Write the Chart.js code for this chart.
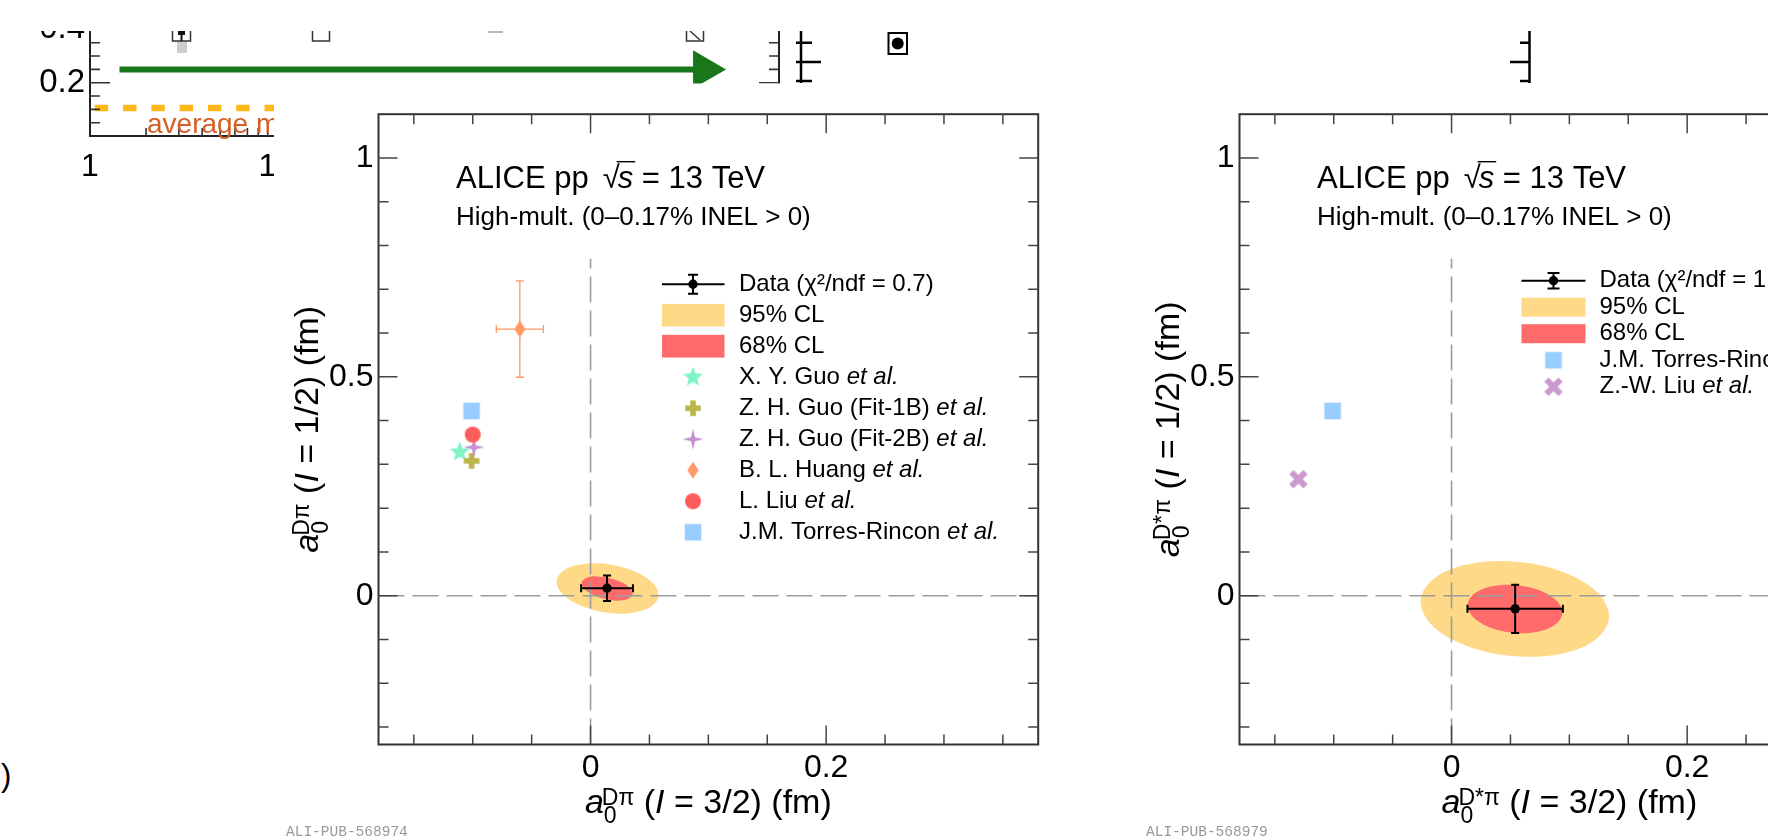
<!DOCTYPE html>
<html>
<head>
<meta charset="utf-8">
<script src="https://cdn.jsdelivr.net/npm/chart.js@4.4.1/dist/chart.umd.min.js"></script>
<style>
html, body { margin:0; padding:0; width:1768px; height:836px; overflow:hidden; background:#fff; }
canvas { position:absolute; display:block; }
#frag { left:0; top:0; clip-path: polygon(0px 31px, 1768px 31px, 1768px 83.5px, 274px 83.5px, 274px 200px, 0px 200px); }
#panelL { left:200px; top:90px; }
#panelR { left:1061px; top:90px; }
.pub { position:absolute; font-family:"Liberation Mono","DejaVu Sans Mono",monospace; font-size:14.5px; line-height:14px; color:#999; white-space:nowrap; }
.paren { position:absolute; left:1px; top:760px; font-family:"Liberation Sans",Arial,sans-serif; font-size:31px; line-height:31px; color:#000; }
</style>
</head>
<body>
<canvas id="frag" width="1768" height="200"></canvas>
<canvas id="panelL" width="880" height="746"></canvas>
<canvas id="panelR" width="880" height="746"></canvas>
<div class="pub" style="left:286px; top:825px;">ALI-PUB-568974</div>
<div class="pub" style="left:1146px; top:825px;">ALI-PUB-568979</div>
<div class="paren">)</div>
<script>
// ================= DATA =================
// --- D pi panel ---
const dpiDataX = [0.014];
const dpiDataY = [0.017];
const dpiDataErrX = [0.022];
const dpiDataErrY = [0.029];
const dpiChi2 = ['0.7'];
const dpiCL95X = [0.0576, 0.0501, 0.0331, 0.0110, -0.0100, -0.0246, -0.0287, -0.0212, -0.0042, 0.0178, 0.0389, 0.0535];
const dpiCL95Y = [-0.0025, -0.0271, -0.0400, -0.0380, -0.0210, 0.0059, 0.0355, 0.0602, 0.0729, 0.0708, 0.0538, 0.0271];
const dpiCL68X = [0.0355, 0.0315, 0.0229, 0.0118, 0.0013, -0.0057, -0.0075, -0.0035, 0.0052, 0.0162, 0.0268, 0.0337];
const dpiCL68Y = [0.0023, -0.0077, -0.0113, -0.0072, 0.0032, 0.0172, 0.0308, 0.0405, 0.0441, 0.0400, 0.0299, 0.0158];
const dpiModels = ['X. Y. Guo', 'Z. H. Guo (Fit-1B)', 'Z. H. Guo (Fit-2B)', 'B. L. Huang', 'L. Liu', 'J.M. Torres-Rincon'];
const dpiModelX = [-0.111, -0.101, -0.099, -0.060, -0.100, -0.101];
const dpiModelY = [0.328, 0.308, 0.339, 0.609, 0.368, 0.422];
const dpiModelErrX = [0, 0, 0, 0.020, 0, 0];
const dpiModelErrY = [0, 0, 0, 0.110, 0, 0];

// --- D* pi panel ---
const dstarpiDataX = [0.054];
const dstarpiDataY = [-0.030];
const dstarpiDataErrX = [0.0405];
const dstarpiDataErrY = [0.055];
const dstarpiChi2 = ['1.1'];
const dstarpiCL95X = [0.1337, 0.1210, 0.0902, 0.0496, 0.0102, -0.0176, -0.0262, -0.0135, 0.0173, 0.0579, 0.0973, 0.1250];
const dstarpiCL95Y = [-0.0523, -0.1029, -0.1342, -0.1373, -0.1120, -0.0649, -0.0084, 0.0423, 0.0735, 0.0767, 0.0514, 0.0043];
const dstarpiCL68X = [0.0940, 0.0875, 0.0721, 0.0518, 0.0320, 0.0181, 0.0137, 0.0201, 0.0356, 0.0559, 0.0756, 0.0896];
const dstarpiCL68Y = [-0.0414, -0.0672, -0.0830, -0.0848, -0.0722, -0.0482, -0.0197, 0.0061, 0.0219, 0.0238, 0.0111, -0.0129];
const dstarpiModels = ['J.M. Torres-Rincon', 'Z.-W. Liu'];
const dstarpiModelX = [-0.101, -0.130];
const dstarpiModelY = [0.422, 0.266];
const dstarpiModelErrX = [0, 0];
const dstarpiModelErrY = [0, 0];

// --- shared axes ---
const xRange = [-0.18, 0.38];
const yRange = [-0.34, 1.1];
const xTickValues = [0, 0.2];
const xTickLabels = ['0', '0.2'];
const yTickValues = [0, 0.5, 1];
const yTickLabels = ['0', '0.5', '1'];
const zeroLineVX = [0, 0];
const zeroLineVY = [-0.34, 0.77];
const zeroLineHX = [-0.18, 0.38];
const zeroLineHY = [0, 0];

// --- background fragment (cropped neighbouring figure) ---
const fragTickX = [1, 10, 100, 1000];
const fragTickXLabels = ['1', '10', '100', '1000'];
const fragTickY = [0.2, 0.4];
const fragTickYLabels = ['0.2', '0.4'];
const fragGreenX = [1.44, 1900];
const fragGreenY = [0.25, 0.25];
const fragHeadX = [1980];
const fragHeadY = [0.25];
const fragAvgX = [1.06, 100];
const fragAvgY = [0.105, 0.105];

// ================= STYLE =================
const FONT = '"Liberation Sans", Arial, Helvetica, sans-serif';
const fnt = (size, italic) => (italic ? 'italic ' : '') + size + 'px ' + FONT;
Chart.defaults.font.family = FONT;
const CL95_COLOR = '#fed987';
const CL68_COLOR = '#ff6b6b';
const ZERO_COLOR = '#9c9c9c';
const dpiMarkerKinds = ['star5', 'plus', 'star4', 'diamond', 'circle', 'square'];
const dpiMarkerColors = ['#7ff5c6', '#bbb54a', '#c690d3', '#ff9966', '#ff5c5c', '#99ccff'];
const dstarpiMarkerKinds = ['square', 'xcross'];
const dstarpiMarkerColors = ['#99ccff', '#cc99cc'];

function makeMarker(kind, color) {
  const s = 28, c = document.createElement('canvas');
  c.width = s; c.height = s;
  const g = c.getContext('2d');
  g.translate(s / 2, s / 2);
  g.fillStyle = color;
  g.beginPath();
  if (kind === 'square') g.rect(-8.3, -8.3, 16.6, 16.6);
  else if (kind === 'circle') g.arc(0, 0, 8, 0, Math.PI * 2);
  else if (kind === 'diamond') { g.moveTo(0, -8.5); g.lineTo(5.6, 0); g.lineTo(0, 8.5); g.lineTo(-5.6, 0); g.closePath(); }
  else if (kind === 'star5' || kind === 'star4') {
    const n = kind === 'star5' ? 5 : 4, ro = 10.5, ri = kind === 'star5' ? 4.5 : 2.8;
    for (let i = 0; i < 2 * n; i++) {
      const a = -Math.PI / 2 + i * Math.PI / n, r = i % 2 ? ri : ro;
      const px = r * Math.cos(a), py = r * Math.sin(a);
      if (i) g.lineTo(px, py); else g.moveTo(px, py);
    }
    g.closePath();
  } else if (kind === 'plus' || kind === 'xcross') {
    if (kind === 'xcross') g.rotate(Math.PI / 4);
    const L = kind === 'plus' ? 7.8 : 10, T = kind === 'plus' ? 2.8 : 3.0;
    g.rect(-L, -T, 2 * L, 2 * T); g.rect(-T, -L, 2 * T, 2 * L);
  }
  g.fill();
  return c;
}

// rich text: segments {t, size, it} or {sup, sub, size, supDx, supDy, subDx, subDy}
function drawRich(ctx, segs, x, y, dry) {
  let cx = x;
  for (const s of segs) {
    if (s.sup !== undefined) {
      ctx.font = fnt(s.size);
      const w1 = ctx.measureText(s.sup).width + s.supDx;
      const w2 = ctx.measureText(s.sub).width + s.subDx;
      if (!dry) { ctx.fillText(s.sup, cx + s.supDx, y + s.supDy); ctx.fillText(s.sub, cx + s.subDx, y + s.subDy); }
      cx += Math.max(w1, w2);
    } else {
      ctx.font = fnt(s.size, s.it);
      if (!dry) ctx.fillText(s.t, cx, y);
      cx += ctx.measureText(s.t).width;
    }
  }
  return cx - x;
}

function closedLoop(xs, ys) {
  const pts = xs.map((x, i) => ({ x, y: ys[i] }));
  const n = pts.length;
  return [pts[n - 1], ...pts, pts[0], pts[1]];
}

function axisTitle(sup, iso) {
  return [
    { t: 'a', size: 34, it: true },
    { sup: sup, sub: '0', size: 23, supDx: -2, supDy: -8.5, subDx: 0, subDy: 10 },
    { t: ' (', size: 34 },
    { t: 'I', size: 34, it: true },
    { t: ' = ' + iso + ') (fm)', size: 34 }
  ];
}

function buildPanel(canvasId, P) {
  const markers = P.kinds.map((k, i) => makeMarker(k, P.colors[i]));
  const datasets = [
    { data: closedLoop(P.cl95X, P.cl95Y), showLine: true, fill: 'shape', backgroundColor: CL95_COLOR, borderWidth: 0, pointRadius: 0, tension: 0.35, order: 20 },
    { data: closedLoop(P.cl68X, P.cl68Y), showLine: true, fill: 'shape', backgroundColor: CL68_COLOR, borderWidth: 0, pointRadius: 0, tension: 0.35, order: 19 },
    { data: zeroLineHX.map((x, i) => ({ x, y: zeroLineHY[i] })), showLine: true, borderColor: ZERO_COLOR, borderWidth: 1.6, borderDash: [26, 8], pointRadius: 0, order: 18 },
    { data: zeroLineVX.map((x, i) => ({ x, y: zeroLineVY[i] })), showLine: true, borderColor: ZERO_COLOR, borderWidth: 1.6, borderDash: [26, 8], pointRadius: 0, order: 17 }
  ];
  P.modelX.forEach((x, i) => {
    datasets.push({ data: [{ x, y: P.modelY[i] }], pointStyle: markers[i], pointRadius: 10, order: 10 - i });
  });
  datasets.push({ data: [{ x: P.dataX[0], y: P.dataY[0] }], pointStyle: 'circle', pointRadius: 4.7, backgroundColor: '#000', borderWidth: 0, order: 0 });

  const L = P.legend;
  const decor = {
    id: 'decor',
    afterDatasetsDraw(chart) {
      const ctx = chart.ctx, sx = chart.scales.x, sy = chart.scales.y;
      const bars = [];
      P.dataX.forEach((x, i) => bars.push({ x, y: P.dataY[i], ex: P.dataErrX[i], ey: P.dataErrY[i], color: '#000', lw: 2, cap: 4 }));
      P.modelX.forEach((x, i) => { if (P.modelErrX[i] || P.modelErrY[i]) bars.push({ x, y: P.modelY[i], ex: P.modelErrX[i], ey: P.modelErrY[i], color: P.colors[i], lw: 1.3, cap: 4 }); });
      ctx.save();
      for (const b of bars) {
        const px = sx.getPixelForValue(b.x), py = sy.getPixelForValue(b.y);
        const x1 = sx.getPixelForValue(b.x - b.ex), x2 = sx.getPixelForValue(b.x + b.ex);
        const y1 = sy.getPixelForValue(b.y + b.ey), y2 = sy.getPixelForValue(b.y - b.ey);
        ctx.strokeStyle = b.color; ctx.lineWidth = b.lw;
        ctx.beginPath();
        ctx.moveTo(x1, py); ctx.lineTo(x2, py);
        ctx.moveTo(px, y1); ctx.lineTo(px, y2);
        ctx.moveTo(x1, py - b.cap); ctx.lineTo(x1, py + b.cap);
        ctx.moveTo(x2, py - b.cap); ctx.lineTo(x2, py + b.cap);
        ctx.moveTo(px - b.cap, y1); ctx.lineTo(px + b.cap, y1);
        ctx.moveTo(px - b.cap, y2); ctx.lineTo(px + b.cap, y2);
        ctx.stroke();
      }
      ctx.restore();
    },
    afterDraw(chart) {
      const ctx = chart.ctx, ca = chart.chartArea, sx = chart.scales.x, sy = chart.scales.y;
      ctx.save();
      // frame
      ctx.strokeStyle = '#333'; ctx.lineWidth = 2;
      ctx.strokeRect(ca.left, ca.top, ca.right - ca.left, ca.bottom - ca.top);
      // ROOT-style inward ticks
      ctx.strokeStyle = '#444'; ctx.lineWidth = 1.5;
      ctx.beginPath();
      for (let i = -3; i <= 7; i++) {
        const px = sx.getPixelForValue(i * 0.05), len = (i % 4 === 0) ? 19 : 10;
        if (px <= ca.left + 1 || px >= ca.right - 1) continue;
        ctx.moveTo(px, ca.bottom); ctx.lineTo(px, ca.bottom - len);
        ctx.moveTo(px, ca.top); ctx.lineTo(px, ca.top + len);
      }
      for (let i = -3; i <= 10; i++) {
        const py = sy.getPixelForValue(i * 0.1), len = (i % 5 === 0) ? 19 : 10;
        if (py <= ca.top + 1 || py >= ca.bottom - 1) continue;
        ctx.moveTo(ca.left, py); ctx.lineTo(ca.left + len, py);
        ctx.moveTo(ca.right, py); ctx.lineTo(ca.right - len, py);
      }
      ctx.stroke();

      ctx.fillStyle = '#000';
      ctx.textBaseline = 'alphabetic';
      ctx.textAlign = 'left';
      // header texts
      let x = ca.left + 77.5, y = ca.top + 73.5;
      ctx.font = fnt(31);
      ctx.fillText('ALICE pp', x, y);
      x += ctx.measureText('ALICE pp').width + 14;
      ctx.fillText('\u221A', x, y);
      const rw = ctx.measureText('\u221A').width;
      ctx.font = fnt(31, true);
      ctx.fillText('s', x + rw - 2, y);
      const sw = ctx.measureText('s').width;
      ctx.strokeStyle = '#000'; ctx.lineWidth = 1.4;
      ctx.beginPath(); ctx.moveTo(x + rw - 3, y - 26); ctx.lineTo(x + rw + sw, y - 26); ctx.stroke();
      ctx.font = fnt(31);
      ctx.fillText(' = 13 TeV', x + rw - 2 + sw, y);
      ctx.font = fnt(26);
      ctx.fillText('High-mult. (0\u20130.17% INEL > 0)', ca.left + 77.5, ca.top + 110.3);

      // axis titles
      const xt = axisTitle(P.sup, '3/2'), yt = axisTitle(P.sup, '1/2');
      const wx = drawRich(ctx, xt, 0, 0, true);
      drawRich(ctx, xt, (ca.left + ca.right) / 2 - wx / 2, ca.bottom + 68.5);
      const wy = drawRich(ctx, yt, 0, 0, true);
      ctx.save();
      ctx.translate(ca.left - 61, (ca.top + ca.bottom) / 2);
      ctx.rotate(-Math.PI / 2);
      drawRich(ctx, yt, -wy / 2, 0);
      ctx.restore();

      // legend
      ctx.textBaseline = 'middle';
      const mx = ca.left + L.markerX, bl = ca.left + L.boxL, br = ca.left + L.boxR, tx = ca.left + L.textX;
      L.rows.forEach((row, r) => {
        const ry = ca.top + L.row0 + r * L.step;
        if (row.kind === 'data') {
          ctx.strokeStyle = '#000'; ctx.lineWidth = 2;
          ctx.beginPath();
          ctx.moveTo(bl, ry); ctx.lineTo(br, ry);
          ctx.moveTo(mx, ry - L.errHalf); ctx.lineTo(mx, ry + L.errHalf);
          ctx.moveTo(mx - L.cap, ry - L.errHalf); ctx.lineTo(mx + L.cap, ry - L.errHalf);
          ctx.moveTo(mx - L.cap, ry + L.errHalf); ctx.lineTo(mx + L.cap, ry + L.errHalf);
          ctx.stroke();
          ctx.beginPath(); ctx.arc(mx, ry, 4.7, 0, Math.PI * 2); ctx.fillStyle = '#000'; ctx.fill();
        } else if (row.kind === 'box') {
          ctx.fillStyle = row.color;
          ctx.fillRect(bl, ry - L.boxH / 2, br - bl, L.boxH);
        } else {
          const m = markers[row.index];
          ctx.drawImage(m, mx - m.width / 2, ry - m.height / 2);
        }
        ctx.fillStyle = '#000';
        drawRich(ctx, row.text, tx, ry);
      });
      ctx.restore();
    }
  };

  return new Chart(document.getElementById(canvasId), {
    type: 'scatter',
    data: { datasets },
    options: {
      responsive: false, animation: false, devicePixelRatio: 1, events: [],
      layout: { padding: { left: 0, top: 19, right: 41.8, bottom: 0 } },
      plugins: { legend: { display: false }, tooltip: { enabled: false }, title: { display: false } },
      scales: {
        x: {
          type: 'linear', position: 'bottom', min: xRange[0], max: xRange[1],
          grid: { display: false, drawTicks: false, tickLength: 0 }, border: { display: false },
          afterBuildTicks: (s) => { s.ticks = xTickValues.map(v => ({ value: v })); },
          afterFit: (s) => { s.height = 91.5; },
          ticks: { padding: 4, color: '#000', font: { size: 32, family: FONT }, maxRotation: 0, autoSkip: false, callback: (v, i) => xTickLabels[i] }
        },
        y: {
          type: 'linear', position: 'left', min: yRange[0], max: yRange[1],
          grid: { display: false, drawTicks: false, tickLength: 0 }, border: { display: false },
          afterBuildTicks: (s) => { s.ticks = yTickValues.map(v => ({ value: v })); },
          afterFit: (s) => { s.width = 178.5; },
          ticks: { padding: 5, color: '#000', font: { size: 32, family: FONT }, autoSkip: false, callback: (v, i) => yTickLabels[i] }
        }
      }
    },
    plugins: [decor]
  });
}

const etal = (name) => [{ t: name + ' ', size: 24 }, { t: 'et al.', size: 24, it: true }];

buildPanel('panelL', {
  sup: 'D\u03C0',
  dataX: dpiDataX, dataY: dpiDataY, dataErrX: dpiDataErrX, dataErrY: dpiDataErrY,
  cl95X: dpiCL95X, cl95Y: dpiCL95Y, cl68X: dpiCL68X, cl68Y: dpiCL68Y,
  modelX: dpiModelX, modelY: dpiModelY, modelErrX: dpiModelErrX, modelErrY: dpiModelErrY,
  kinds: dpiMarkerKinds, colors: dpiMarkerColors,
  legend: {
    markerX: 314.5, boxL: 283.5, boxR: 346, textX: 360.5, row0: 170, step: 31, boxH: 22.7, errHalf: 9.5, cap: 5,
    rows: [
      { kind: 'data', text: [{ t: 'Data (\u03C7\u00B2/ndf = ' + dpiChi2[0] + ')', size: 24 }] },
      { kind: 'box', color: CL95_COLOR, text: [{ t: '95% CL', size: 24 }] },
      { kind: 'box', color: CL68_COLOR, text: [{ t: '68% CL', size: 24 }] }
    ].concat(dpiModels.map((m, i) => ({ kind: 'marker', index: i, text: etal(m) })))
  }
});

buildPanel('panelR', {
  sup: 'D*\u03C0',
  dataX: dstarpiDataX, dataY: dstarpiDataY, dataErrX: dstarpiDataErrX, dataErrY: dstarpiDataErrY,
  cl95X: dstarpiCL95X, cl95Y: dstarpiCL95Y, cl68X: dstarpiCL68X, cl68Y: dstarpiCL68Y,
  modelX: dstarpiModelX, modelY: dstarpiModelY, modelErrX: dstarpiModelErrX, modelErrY: dstarpiModelErrY,
  kinds: dstarpiMarkerKinds, colors: dstarpiMarkerColors,
  legend: {
    markerX: 314, boxL: 282, boxR: 346, textX: 360, row0: 166.5, step: 26.5, boxH: 19, errHalf: 7.7, cap: 6,
    rows: [
      { kind: 'data', text: [{ t: 'Data (\u03C7\u00B2/ndf = ' + dstarpiChi2[0] + ')', size: 24 }] },
      { kind: 'box', color: CL95_COLOR, text: [{ t: '95% CL', size: 24 }] },
      { kind: 'box', color: CL68_COLOR, text: [{ t: '68% CL', size: 24 }] }
    ].concat(dstarpiModels.map((m, i) => ({ kind: 'marker', index: i, text: etal(m) })))
  }
});

// ================= background fragment =================
const fragDecor = {
  id: 'fragDecor',
  afterDraw(chart) {
    const ctx = chart.ctx, ca = chart.chartArea, sx = chart.scales.x, sy = chart.scales.y;
    ctx.save();
    ctx.strokeStyle = '#222'; ctx.lineWidth = 2;
    ctx.strokeRect(ca.left, ca.top, ca.right - ca.left, ca.bottom - ca.top);
    ctx.lineWidth = 1.6; ctx.strokeStyle = '#333';
    ctx.beginPath();
    for (let i = 1; i <= 8; i++) {
      const py = sy.getPixelForValue(i * 0.05), len = (i % 4 === 0) ? 20 : 10;
      ctx.moveTo(ca.left, py); ctx.lineTo(ca.left + len, py);
      ctx.moveTo(ca.right, py); ctx.lineTo(ca.right - len, py);
    }
    for (const d of [1, 10, 100, 1000]) {
      for (let k = 1; k <= 9; k++) {
        const v = d * k;
        if (v <= 1 || v >= 5000) continue;
        const px = sx.getPixelForValue(v), len = k === 1 ? 16 : 8;
        ctx.moveTo(px, ca.bottom); ctx.lineTo(px, ca.bottom - len);
      }
    }
    ctx.stroke();
    // text label inside the fragment
    ctx.fillStyle = '#d45f24';
    ctx.font = fnt(28);
    ctx.textBaseline = 'alphabetic';
    ctx.fillText('average m', ca.left + 57, ca.top + 104);
    // cut-off legend glyphs of the neighbouring figure
    ctx.fillStyle = '#cccccc'; ctx.fillRect(177, 41, 10, 12);
    ctx.strokeStyle = '#333'; ctx.lineWidth = 1.5;
    ctx.strokeRect(172.5, 24, 18, 17);
    ctx.fillStyle = '#111'; ctx.fillRect(178, 31, 7, 4); ctx.fillRect(180.5, 31, 2, 10);
    ctx.strokeRect(312.5, 24, 17, 17);
    ctx.strokeStyle = '#bbb'; ctx.lineWidth = 2; ctx.beginPath(); ctx.moveTo(488, 32); ctx.lineTo(503, 32); ctx.stroke();
    ctx.strokeStyle = '#333'; ctx.lineWidth = 1.5;
    ctx.strokeRect(686.5, 24, 17, 17);
    ctx.beginPath(); ctx.moveTo(690, 31); ctx.lineTo(700, 40); ctx.stroke();
    ctx.strokeStyle = '#000'; ctx.lineWidth = 2.5;
    ctx.beginPath();
    ctx.moveTo(801, 28); ctx.lineTo(801, 83);
    ctx.moveTo(796, 42.7); ctx.lineTo(812, 42.7);
    ctx.moveTo(796, 62); ctx.lineTo(821, 62);
    ctx.moveTo(796, 81); ctx.lineTo(812, 81);
    ctx.moveTo(1529.5, 28); ctx.lineTo(1529.5, 83);
    ctx.moveTo(1520, 42.7); ctx.lineTo(1529.5, 42.7);
    ctx.moveTo(1510, 62); ctx.lineTo(1529.5, 62);
    ctx.moveTo(1520, 81); ctx.lineTo(1529.5, 81);
    ctx.stroke();
    ctx.lineWidth = 2;
    ctx.strokeRect(888.5, 33, 18.5, 21);
    ctx.fillStyle = '#000'; ctx.beginPath(); ctx.arc(897.7, 43.5, 6, 0, Math.PI * 2); ctx.fill();
    ctx.restore();
  }
};

new Chart(document.getElementById('frag'), {
  type: 'scatter',
  data: {
    datasets: [
      { data: fragGreenX.map((x, i) => ({ x, y: fragGreenY[i] })), showLine: true, borderColor: '#1a761a', borderWidth: 6, pointRadius: 0 },
      { data: fragHeadX.map((x, i) => ({ x, y: fragHeadY[i] })), pointStyle: 'triangle', rotation: 90, pointRadius: 22, backgroundColor: '#1a761a', borderWidth: 0 },
      { data: fragAvgX.map((x, i) => ({ x, y: fragAvgY[i] })), showLine: true, borderColor: '#ffb81a', borderWidth: 6.5, borderDash: [13.5, 14.8], pointRadius: 0 }
    ]
  },
  options: {
    responsive: false, animation: false, devicePixelRatio: 1, events: [],
    layout: { padding: { left: 0, top: 29.4, right: 989, bottom: 0 } },
    plugins: { legend: { display: false }, tooltip: { enabled: false } },
    scales: {
      x: {
        type: 'logarithmic', min: 1, max: 5000,
        grid: { display: false, drawTicks: false, tickLength: 0 }, border: { display: false },
        afterBuildTicks: (s) => { s.ticks = fragTickX.map(v => ({ value: v })); },
        afterFit: (s) => { s.height = 64; },
        ticks: { padding: 12, color: '#000', font: { size: 32, family: FONT }, maxRotation: 0, autoSkip: false, callback: (v, i) => fragTickXLabels[i] }
      },
      y: {
        type: 'linear', min: 0, max: 0.4,
        grid: { display: false, drawTicks: false, tickLength: 0 }, border: { display: false },
        afterBuildTicks: (s) => { s.ticks = fragTickY.map(v => ({ value: v })); },
        afterFit: (s) => { s.width = 90; },
        ticks: { padding: 5, color: '#000', font: { size: 33, family: FONT }, autoSkip: false, callback: (v, i) => fragTickYLabels[i] }
      }
    }
  },
  plugins: [fragDecor]
});
</script>
</body>
</html>
